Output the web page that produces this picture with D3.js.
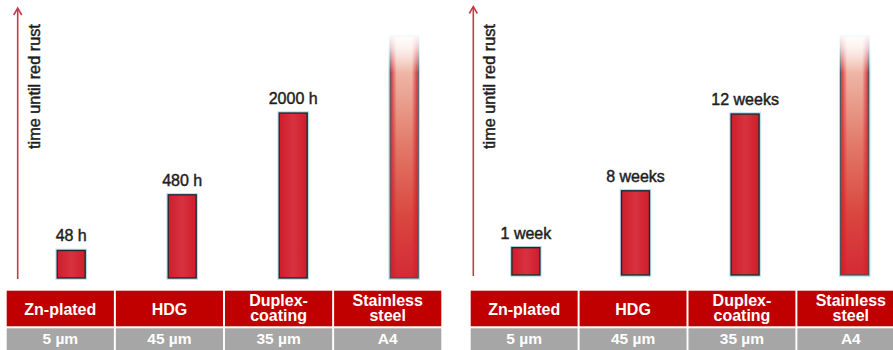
<!DOCTYPE html>
<html>
<head>
<meta charset="utf-8">
<script src="https://cdn.jsdelivr.net/npm/d3@7"></script>
<style>
  body { margin: 0; background: #fff; }
  svg { display: block; }
  text { font-family: "Liberation Sans", Arial, Helvetica, sans-serif; }
</style>
</head>
<body>
<svg id="chart" width="893" height="350"></svg>
<script>
// Coating types (header lines), layer thickness row, and time to red rust
const categories = [["Zn-plated"], ["HDG"], ["Duplex-", "coating"], ["Stainless", "steel"]];
const thickness = ["5 µm", "45 µm", "35 µm", "A4"];
const hoursValues = [48, 480, 2000, null];   // salt spray test, hours (null = open-ended)
const weeksValues = [1, 8, 12, null];        // outdoor exposure, weeks (null = open-ended)
const axisTitle = "time until red rust";

const svg = d3.select("#chart");
const defs = svg.append("defs");

// bar body: slightly lighter in the middle
const barFill = defs.append("linearGradient").attr("id", "barFill").attr("x1", 0).attr("x2", 1).attr("y1", 0).attr("y2", 0);
[[0, "#d01c2a"], [0.5, "#d73240"], [1, "#d01c2a"]].forEach(([o, c]) => barFill.append("stop").attr("offset", o).attr("stop-color", c));

// open-ended bar: pale at the top, deepening to red
const openFill = defs.append("linearGradient").attr("id", "openFill").attr("x1", 0).attr("x2", 0).attr("y1", 0).attr("y2", 1);
[[0, "#f7ded5"], [0.12, "#f0bcac"], [0.45, "#e27a69"], [0.75, "#d9463f"], [1, "#d42a35"]]
  .forEach(([o, c]) => openFill.append("stop").attr("offset", o).attr("stop-color", c));
const openEdge = defs.append("linearGradient").attr("id", "openEdge").attr("x1", 0).attr("x2", 1).attr("y1", 0).attr("y2", 0);
[[0, "#d01c2a", 0.85], [0.22, "#d01c2a", 0], [0.78, "#d01c2a", 0], [1, "#d01c2a", 0.85]]
  .forEach(([o, c, a]) => openEdge.append("stop").attr("offset", o).attr("stop-color", c).attr("stop-opacity", a));
const topFade = defs.append("linearGradient").attr("id", "topFade").attr("x1", 0).attr("x2", 0).attr("y1", 0).attr("y2", 1);
[[0, 1], [0.35, 0.75], [1, 0]].forEach(([o, a]) => topFade.append("stop").attr("offset", o).attr("stop-color", "#fff").attr("stop-opacity", a));

const plotTop = 36;
const barW = 28;

const panels = [
  {
    values: hoursValues,
    label: v => `${v} h`,
    arrowX: 17.7, arrowTop: 8, base: 278,
    bars: [71.2, 404.2], table: [6.7, 441.3],
    y: b => d3.scalePow().exponent(0.48).domain([0, 2000]).range([b, b - 165])
  },
  {
    values: weeksValues,
    label: v => (v === 1 ? "1 week" : `${v} weeks`),
    arrowX: 473.3, arrowTop: 6.5, base: 275,
    bars: [525.9, 854.7], table: [470.7, 904.3],
    // qualitative axis: stepped scale through the exposure periods
    y: b => d3.scaleLinear().domain([0, 1, 8, 12]).range([0, 0.17, 0.523, 1].map(t => b - t * 161))
  }
];

panels.forEach(p => {
  const g = svg.append("g");
  const y = p.y(p.base);
  const x = d3.scalePoint().domain(d3.range(categories.length)).range(p.bars);
  const col = d3.scaleBand().domain(d3.range(categories.length)).range(p.table).paddingInner(0.018);

  // vertical axis arrow
  g.append("line")
    .attr("x1", p.arrowX).attr("x2", p.arrowX)
    .attr("y1", p.base + 1).attr("y2", p.arrowTop + 1)
    .attr("stroke", "#c63a4c").attr("stroke-width", 1.6);
  g.append("path")
    .attr("d", `M${p.arrowX - 4},${p.arrowTop + 7}L${p.arrowX},${p.arrowTop}L${p.arrowX + 4},${p.arrowTop + 7}`)
    .attr("fill", "none").attr("stroke", "#c63a4c").attr("stroke-width", 1.6);
  g.append("text")
    .attr("transform", `translate(${p.arrowX + 22},149) rotate(-90)`)
    .attr("font-size", 16.3).attr("fill", "#1e1e1e")
    .attr("stroke", "#1e1e1e").attr("stroke-width", 0.45)
    .text(axisTitle);

  // bars
  p.values.forEach((v, i) => {
    const cx = x(i);
    const top = v == null ? plotTop : y(v);
    const h = p.base - top;
    g.append("rect")
      .attr("x", cx - barW / 2 - 1.2).attr("y", top - 1.2)
      .attr("width", barW + 2.4).attr("height", h + 2.4)
      .attr("fill", "none").attr("stroke", "#a9dcea").attr("stroke-width", 1);
    if (v == null) {
      g.append("rect")
        .attr("x", cx - barW / 2).attr("y", top).attr("width", barW).attr("height", h)
        .attr("fill", "url(#openFill)").attr("stroke", "#3b4a55").attr("stroke-width", 1.2);
      g.append("rect")
        .attr("x", cx - barW / 2 + 0.6).attr("y", top).attr("width", barW - 1.2).attr("height", h - 0.6)
        .attr("fill", "url(#openEdge)");
      g.append("rect")
        .attr("x", cx - barW / 2 - 3).attr("y", top - 3).attr("width", barW + 6).attr("height", 40)
        .attr("fill", "url(#topFade)");
    } else {
      g.append("rect")
        .attr("x", cx - barW / 2).attr("y", top).attr("width", barW).attr("height", h)
        .attr("fill", "url(#barFill)").attr("stroke", "#1d2a32").attr("stroke-width", 1.4);
      g.append("text")
        .attr("x", cx).attr("y", top - 9)
        .attr("text-anchor", "middle").attr("font-size", 16).attr("fill", "#1e1e1e")
        .attr("stroke", "#1e1e1e").attr("stroke-width", 0.45)
        .text(p.label(v));
    }
  });

  // table: coating names and thickness
  categories.forEach((lines, i) => {
    const x0 = col(i), w = col.bandwidth(), cx = x0 + w / 2;
    g.append("rect").attr("x", x0).attr("y", 290.7).attr("width", w).attr("height", 35.6).attr("fill", "#c00000");
    g.append("rect").attr("x", x0).attr("y", 328.3).attr("width", w).attr("height", 23).attr("fill", "#a6a6a6");
    const base = lines.length === 1 ? [315] : [305.5, 321];
    lines.forEach((t, j) => {
      g.append("text")
        .attr("x", cx).attr("y", base[j])
        .attr("text-anchor", "middle").attr("font-size", 16).attr("font-weight", "bold").attr("fill", "#fff")
        .text(t);
    });
    g.append("text")
      .attr("x", cx).attr("y", 343.5)
      .attr("text-anchor", "middle").attr("font-size", 15.5).attr("font-weight", "bold").attr("fill", "#fff")
      .text(thickness[i]);
  });
});
</script>
</body>
</html>
